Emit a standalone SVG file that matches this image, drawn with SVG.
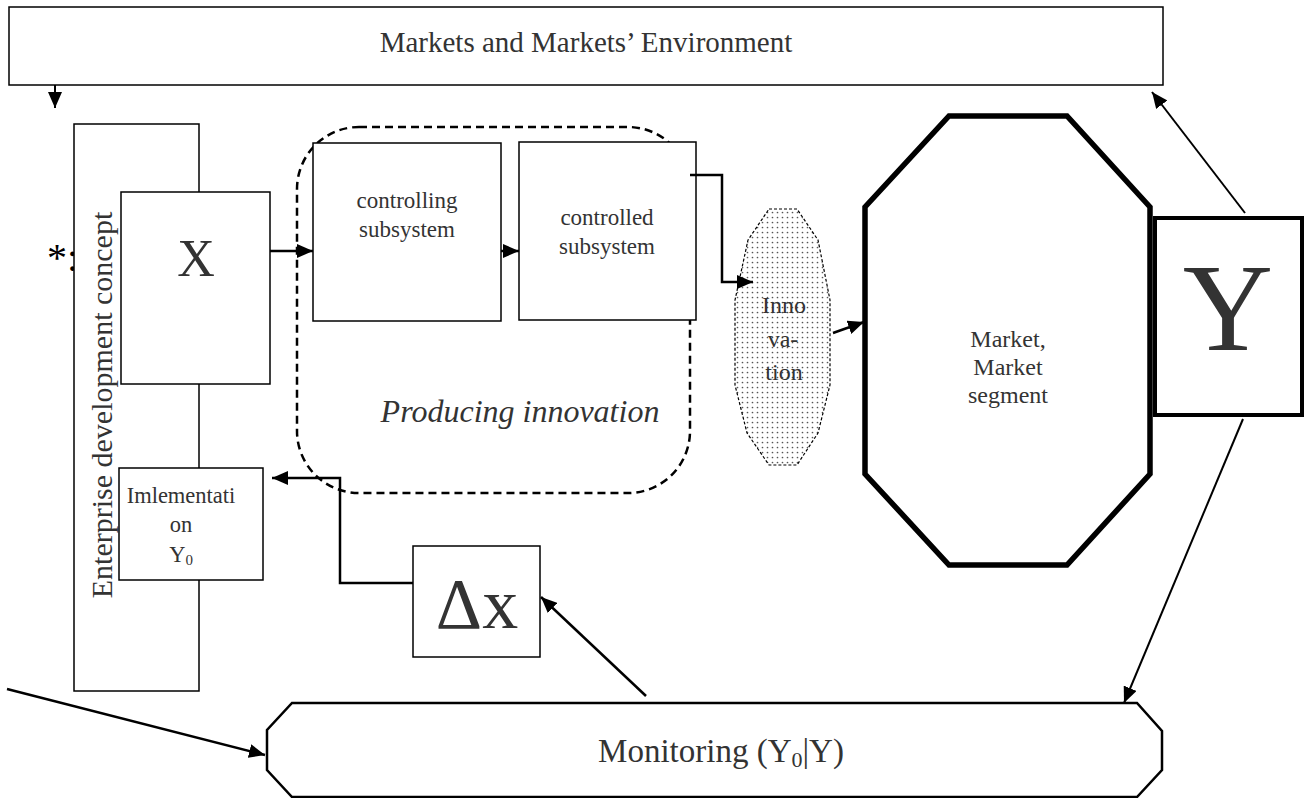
<svg xmlns="http://www.w3.org/2000/svg" width="1306" height="798" viewBox="0 0 1306 798">
<style>
.box{fill:#fff;stroke:#000;stroke-width:1.5}
.t{font-family:"Liberation Serif","Times New Roman",serif;fill:#333;text-anchor:middle}
.c{fill:none;stroke:#000;stroke-width:2.5}
.c2{fill:none;stroke:#000;stroke-width:2}
</style>
<defs>
<marker id="ah" viewBox="0 0 16 14" refX="16" refY="7" markerWidth="16" markerHeight="14" markerUnits="userSpaceOnUse" orient="auto">
<path d="M0,0 L16,7 L0,14 Z" fill="#000"/>
</marker>
<pattern id="dots" width="5" height="5" patternUnits="userSpaceOnUse">
<rect width="5" height="5" fill="#fff"/>
<circle cx="2.5" cy="2.5" r="0.85" fill="#555"/>
</pattern>
</defs>

<g id="markets-env">
<rect class="box" x="9" y="7" width="1154" height="78"/>
<text class="t" x="586" y="52" font-size="29">Markets and Markets’ Environment</text>
</g>

<g id="star">
<text font-family="Liberation Serif, serif" font-size="40" fill="#000" x="47" y="271">*:</text>
</g>

<g id="enterprise">
<rect class="box" x="74" y="124" width="125" height="567"/>
<text class="t" font-size="30" transform="translate(112,405) rotate(-90)">Enterprise development concept</text>
</g>

<g id="x-box">
<rect class="box" x="121" y="192" width="149" height="192"/>
<text class="t" x="196" y="276" font-size="52">X</text>
</g>

<g id="implementation">
<rect class="box" x="119" y="468" width="144" height="112"/>
<text class="t" x="181" y="503" font-size="22.5">Imlementati</text>
<text class="t" x="181" y="532" font-size="22.5">on</text>
<text class="t" x="181" y="562" font-size="22.5">Y<tspan font-size="15" dy="3">0</tspan></text>
</g>

<g id="producing">
<rect x="297" y="127" width="393" height="366" rx="62" fill="none" stroke="#000" stroke-width="2.5" stroke-dasharray="8,5"/>
<text class="t" x="520" y="422" font-size="32" font-style="italic">Producing innovation</text>
</g>

<g id="controlling">
<rect class="box" x="313" y="143" width="188" height="178"/>
<text class="t" x="407" y="208" font-size="23">controlling</text>
<text class="t" x="407" y="237" font-size="23">subsystem</text>
</g>

<g id="controlled">
<rect class="box" x="519" y="142" width="177" height="178"/>
<text class="t" x="607" y="225" font-size="23">controlled</text>
<text class="t" x="607" y="254" font-size="23">subsystem</text>
</g>

<g id="innovation">
<polygon points="769,209 797,209 818,240 830,300 830,385 818,433 797,465 769,465 747,433 735,385 735,300 748,240" fill="url(#dots)" stroke="#000" stroke-width="1.2" stroke-dasharray="3,2"/>
<text class="t" x="784" y="313" font-size="24" fill="#444">Inno</text>
<text class="t" x="783" y="347" font-size="24" fill="#444">va-</text>
<text class="t" x="784" y="380" font-size="24" fill="#444">tion</text>
</g>

<g id="market">
<polygon points="949,116 1067,116 1150,207 1150,474 1067,565 949,565 865,474 865,207" fill="#fff" stroke="#000" stroke-width="5.5"/>
<text class="t" x="1008" y="347" font-size="24">Market,</text>
<text class="t" x="1008" y="375" font-size="24">Market</text>
<text class="t" x="1008" y="403" font-size="24">segment</text>
</g>

<g id="y-box">
<rect x="1155" y="218" width="147" height="197" fill="#fff" stroke="#000" stroke-width="4"/>
<text class="t" x="1228" y="350" font-size="125">Y</text>
</g>

<g id="delta-x">
<rect class="box" x="413" y="546" width="127" height="111"/>
<text class="t" x="477" y="628" font-size="72">Δx</text>
</g>

<g id="monitoring">
<polygon points="292,703 1137,703 1162,731 1162,770 1137,797 292,797 267,770 267,730" fill="#fff" stroke="#000" stroke-width="2.5"/>
<text class="t" x="721" y="762" font-size="33">Monitoring (Y<tspan font-size="22" dy="5">0</tspan><tspan dy="-5">|Y)</tspan></text>
</g>

<g id="connectors">
<line class="c2" x1="55" y1="85" x2="55" y2="108" marker-end="url(#ah)"/>
<line class="c" x1="270" y1="251" x2="313" y2="251" marker-end="url(#ah)"/>
<line class="c" x1="501" y1="251" x2="519" y2="251" marker-end="url(#ah)"/>
<path class="c" d="M690,175 H722 V282 H753" marker-end="url(#ah)"/>
<line class="c" x1="833" y1="333" x2="864" y2="322" marker-end="url(#ah)"/>
<line class="c2" x1="1245" y1="213" x2="1152" y2="92" marker-end="url(#ah)"/>
<line class="c2" x1="1243" y1="419" x2="1124" y2="703" marker-end="url(#ah)"/>
<line class="c" x1="7" y1="689" x2="265" y2="755" marker-end="url(#ah)"/>
<line class="c" x1="646" y1="696" x2="541" y2="597" marker-end="url(#ah)"/>
<path class="c" d="M413,583 H340 V478 H272" marker-end="url(#ah)"/>
</g>
</svg>
